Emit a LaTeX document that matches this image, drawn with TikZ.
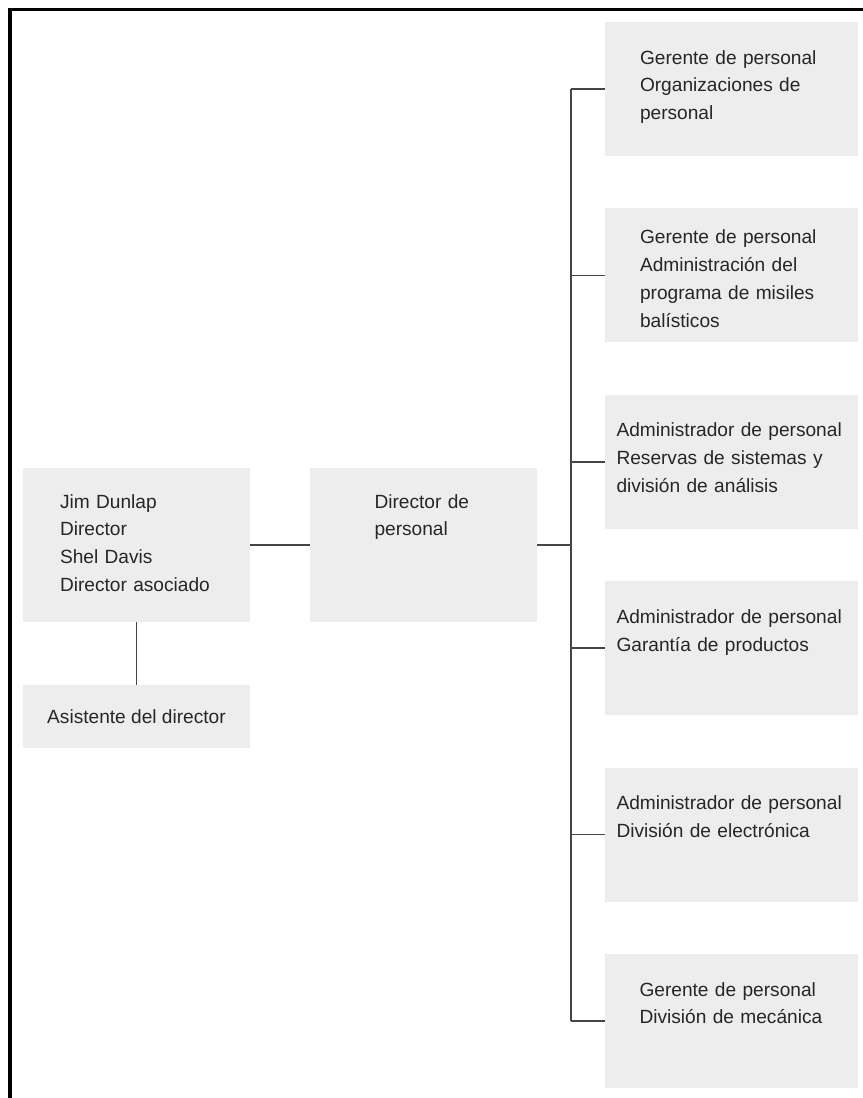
\documentclass[tikz,border=0pt]{standalone}
\usepackage{fontspec}
\setmainfont{Liberation Sans}
\usepackage{xcolor}
\usepackage{tikz}
\usetikzlibrary{positioning, calc}

\definecolor{boxgray}{HTML}{EDEDED}
\definecolor{linegray}{HTML}{454545}
\definecolor{inkgray}{HTML}{262626}

\begin{document}
\begin{tikzpicture}[
  unit/.style  = {rectangle, fill=boxgray, inner sep=0pt, outer sep=0pt,
                  align=left, text=inkgray,
                  font=\fontsize{13.6pt}{19.9pt}\selectfont},
  head/.style  = {unit, minimum width=5.675cm, text width=#1,
                  text height=1.0cm, text depth=2.85cm},
  staff/.style = {unit, minimum width=6.325cm, text width=#1,
                  text height=1.05cm, text depth=2.3cm},
  staff/.default = 4.575cm,
  link/.style  = {draw=linegray, line width=1.1pt},
  frame/.style = {draw=black, line width=2.2pt}
]
\useasboundingbox (0,0) rectangle (21.575,-27.45);

% ── Page frame (top and left edges only) ─────────────────────────────────────
\draw[frame] (0.25,-27.6) |- (21.7,-0.2325);

% ── Director's office (left column) ──────────────────────────────────────────
\node[head=3.825cm, anchor=north west] (chief) at (0.575,-11.7)
      {Jim Dunlap\\Director\\Shel Davis\\Director asociado};
\node[unit, minimum width=5.675cm, minimum height=1.575cm, below=1.575cm of chief]
      (asst) {Asistente del director};

% ── Personnel director ───────────────────────────────────────────────────────
\node[head=2.45cm, right=1.5cm of chief] (dirp) {Director de\\personal};

% ── Personnel managers (right column) ────────────────────────────────────────
\node[staff, anchor=north west] (s1) at (15.125,-0.55)
      {Gerente de personal\\Organizaciones de\\personal};
\node[staff, below=1.31cm of s1, text height=0.875cm, text depth=2.475cm] (s2)
      {Gerente de personal\\Administración del\\programa de misiles\\balísticos};
\node[staff=5.75cm, below=1.31cm of s2] (s3)
      {Administrador de personal\\Reservas de sistemas y\\división de análisis};
\node[staff=5.75cm, below=1.31cm of s3] (s4)
      {Administrador de personal\\Garantía de productos};
\node[staff=5.75cm, below=1.31cm of s4] (s5)
      {Administrador de personal\\División de electrónica};
\node[staff=4.6cm, below=1.31cm of s5] (s6)
      {Gerente de personal\\División de mecánica};

% ── Connectors ───────────────────────────────────────────────────────────────
\coordinate[right=0.85cm of dirp.east] (hub);
\draw[link] (chief) -- (asst);
\draw[link] (chief) -- (dirp);
\draw[link] (dirp)  -- (hub);
\draw[link] (hub |- s1) -- (hub |- s6);
\foreach \i in {1,...,6}
  \draw[link] (hub |- s\i) -- (s\i.west);
\end{tikzpicture}
\end{document}
